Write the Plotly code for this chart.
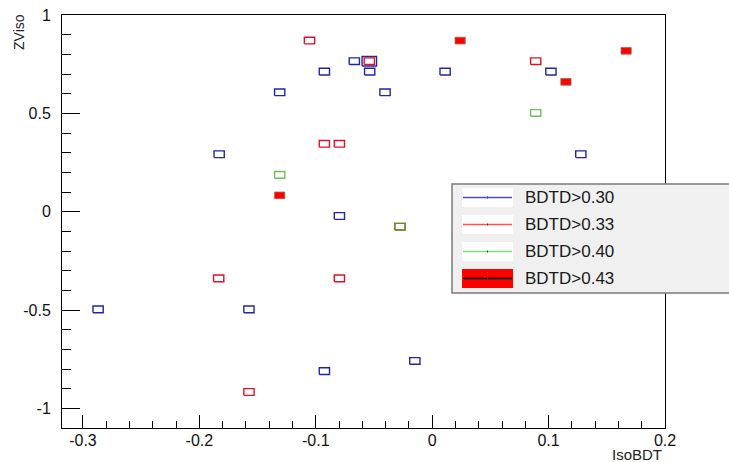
import math
import plotly.graph_objects as go

# ---------------- data ----------------
x_ticks = [-0.3, -0.2, -0.1, 0.0, 0.1, 0.2]
x_tick_labels = ["-0.3", "-0.2", "-0.1", "0", "0.1", "0.2"]
y_ticks = [-1.0, -0.5, 0.0, 0.5, 1.0]
y_tick_labels = ["-1", "-0.5", "0", "0.5", "1"]

series_names = ["BDTD>0.30", "BDTD>0.33", "BDTD>0.40", "BDTD>0.43"]

# BDTD>0.30 (blue, open boxes)
b30_x = [-0.0669, -0.0540, -0.0926, -0.0537, -0.1310, -0.0405, -0.1830, -0.0797,
         0.0111, 0.1020, 0.1277, -0.2870, -0.1574, -0.0149, -0.0926]
b30_y = [0.765, 0.765, 0.712, 0.712, 0.607, 0.607, 0.292, -0.022,
         0.712, 0.712, 0.292, -0.497, -0.497, -0.759, -0.811]
b30_w = [1, 2, 1, 1, 1, 1, 1, 1, 1, 1, 1, 1, 1, 1, 1]

# BDTD>0.33 (red, open boxes)
b33_x = [-0.1054, -0.0540, -0.0926, -0.0797, 0.0889, -0.1834, -0.0797, -0.1574, -0.0277]
b33_y = [0.870, 0.765, 0.345, 0.345, 0.765, -0.339, -0.339, -0.917, -0.0765]
b33_w = [1, 1, 1, 1, 1, 1, 1, 1, 1]

# BDTD>0.40 (green, open boxes)
b40_x = [-0.1310, 0.0889, -0.0277]
b40_y = [0.187, 0.502, -0.0765]
b40_w = [1, 1, 1]

# BDTD>0.43 (red, filled boxes)
b43_x = [0.0240, 0.1149, 0.1666, -0.1310]
b43_y = [0.870, 0.660, 0.818, 0.083]
b43_w = [1, 1, 1, 1]

# ---------------- style ----------------
W, H = 729, 462
ML, MR, MT, MB = 62, 64, 15, 34
X_RANGE = [-0.318, 0.2]
Y_RANGE = [-1.1, 1.0]
BOX_W = 0.0088   # box size for unit content (data units)
BOX_H = 0.034
FONT = "Liberation Sans, Arial, sans-serif"


def box_path(xs, ys, ws):
    px, py = [], []
    for x, y, w in zip(xs, ys, ws):
        s = math.sqrt(w)
        hw, hh = BOX_W * s / 2, BOX_H * s / 2
        px += [x - hw, x + hw, x + hw, x - hw, x - hw, None]
        py += [y - hh, y - hh, y + hh, y + hh, y - hh, None]
    return px, py


fig = go.Figure()

px, py = box_path(b30_x, b30_y, b30_w)
fig.add_trace(go.Scatter(x=px, y=py, mode="lines", name=series_names[0],
                         line=dict(color="#2424a8", width=1.4), showlegend=False,
                         hoverinfo="skip"))
px, py = box_path(b33_x, b33_y, b33_w)
fig.add_trace(go.Scatter(x=px, y=py, mode="lines", name=series_names[1],
                         line=dict(color="#e0102c", width=1.4), showlegend=False,
                         hoverinfo="skip"))
px, py = box_path(b40_x, b40_y, b40_w)
fig.add_trace(go.Scatter(x=px, y=py, mode="lines", name=series_names[2],
                         line=dict(color="rgba(70,175,45,0.8)", width=1.4), showlegend=False,
                         hoverinfo="skip"))
px, py = box_path(b43_x, b43_y, b43_w)
fig.add_trace(go.Scatter(x=px, y=py, mode="lines", name=series_names[3], fill="toself",
                         fillcolor="#ff0000",
                         line=dict(color="rgba(150,110,90,0.8)", width=1), showlegend=False,
                         hoverinfo="skip"))

# ---------------- legend (drawn manually, ROOT style) ----------------
pw, ph = W - ML - MR, H - MT - MB


def fx(p):
    return (p - ML) / pw


def fy(p):
    return (H - MB - p) / ph


shapes = []
annotations = []
shapes.append(dict(type="rect", xref="paper", yref="paper",
                   x0=fx(452), x1=fx(731), y0=fy(293), y1=fy(184),
                   fillcolor="#f0f0f0", line=dict(color="#7a7a7a", width=1.5), layer="above"))
leg_line_colors = ["#4a4ac8", "#ff5050", "#80dc80", "#000000"]
row_mid = [197.5, 224.5, 251.5, 278.5]
for i, name in enumerate(series_names):
    ym = row_mid[i]
    shapes.append(dict(type="rect", xref="paper", yref="paper",
                       x0=fx(462), x1=fx(513), y0=fy(ym + 9.5), y1=fy(ym - 9.5),
                       fillcolor="#ff0000" if i == 3 else "#ffffff",
                       line=dict(width=0), layer="above"))
    shapes.append(dict(type="line", xref="paper", yref="paper",
                       x0=fx(463), x1=fx(512), y0=fy(ym), y1=fy(ym),
                       line=dict(color=leg_line_colors[i], width=1.6), layer="above"))
    shapes.append(dict(type="line", xref="paper", yref="paper",
                       x0=fx(487.5), x1=fx(487.5), y0=fy(ym - 1), y1=fy(ym + 1),
                       line=dict(color="#444444", width=1), layer="above"))
    annotations.append(dict(xref="paper", yref="paper", x=fx(523), y=fy(ym),
                            xanchor="left", yanchor="middle", showarrow=False,
                            text=name, font=dict(family=FONT, size=17, color="#1a1a1a")))

# axis titles
annotations.append(dict(xref="paper", yref="paper", x=fx(664), y=fy(465),
                        xanchor="right", yanchor="bottom", showarrow=False,
                        text="IsoBDT", font=dict(family=FONT, size=15, color="#222222")))
annotations.append(dict(xref="paper", yref="paper", x=fx(19), y=fy(12),
                        xanchor="center", yanchor="top", showarrow=False, textangle=-90,
                        text="ZViso", font=dict(family=FONT, size=14, color="#222222")))

fig.update_layout(
    width=W, height=H,
    margin=dict(l=ML, r=MR, t=MT, b=MB, pad=0, autoexpand=False),
    paper_bgcolor="white", plot_bgcolor="white",
    showlegend=False,
    shapes=shapes, annotations=annotations,
    font=dict(family=FONT, size=16, color="#111111"),
)
fig.update_xaxes(
    range=X_RANGE, showgrid=False, zeroline=False, automargin=False,
    showline=True, linecolor="black", linewidth=1, mirror=True,
    tickmode="array", tickvals=x_ticks, ticktext=x_tick_labels,
    ticks="inside", ticklen=13, tickcolor="black", tickwidth=1,
    ticklabelstandoff=-2,
    minor=dict(ticks="inside", ticklen=7, tickcolor="black", tickwidth=1,
               tick0=0, dtick=0.02, showgrid=False),
    tickfont=dict(family=FONT, size=16, color="#111111"),
)
fig.update_yaxes(
    range=Y_RANGE, showgrid=False, zeroline=False, automargin=False,
    showline=True, linecolor="black", linewidth=1, mirror=True,
    tickmode="array", tickvals=y_ticks, ticktext=y_tick_labels,
    ticks="inside", ticklen=18, tickcolor="black", tickwidth=1,
    ticklabelstandoff=7,
    minor=dict(ticks="inside", ticklen=9, tickcolor="black", tickwidth=1,
               tick0=0, dtick=0.1, showgrid=False),
    tickfont=dict(family=FONT, size=16, color="#111111"),
)

fig.write_html("out.html", config={"displayModeBar": False},
               post_script="document.body.style.margin='0px';")
